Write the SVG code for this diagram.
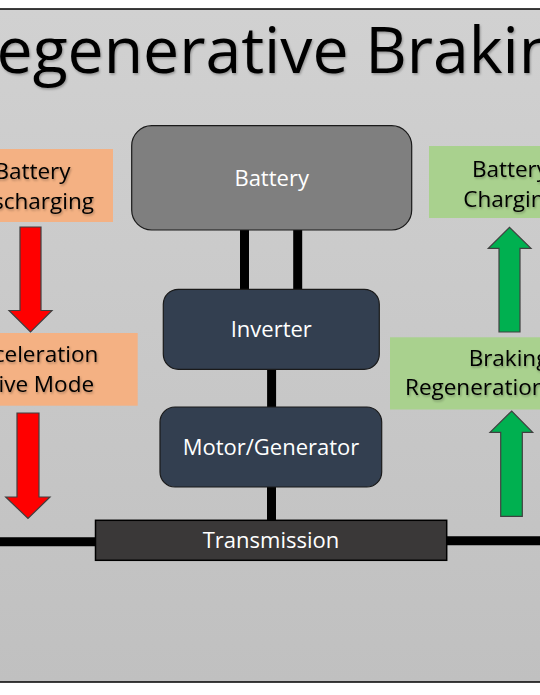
<svg xmlns="http://www.w3.org/2000/svg" width="540" height="695" viewBox="0 0 540 695">
  <defs>
    <linearGradient id="bg" x1="0" y1="0" x2="0" y2="1">
      <stop offset="0" stop-color="#d1d1d1"/>
      <stop offset="1" stop-color="#c0c0c0"/>
    </linearGradient>
    <filter id="sh" x="-10%" y="-20%" width="120%" height="150%">
      <feDropShadow dx="1" dy="1.5" stdDeviation="1" flood-color="#000" flood-opacity="0.3"/>
    </filter>
  </defs>
  <style>
    .lbl { font-family: "Open Sans", "Noto Sans", sans-serif; font-size: 22.5px; fill: #000; text-anchor: middle; filter: url(#sh); }
    .wlbl { font-family: "Open Sans", "Noto Sans", sans-serif; font-size: 22px; fill: #fff; text-anchor: middle; }
    .blk { fill: #333f50; stroke: #1a1a1a; stroke-width: 1.2; }
    .con { stroke: #000; stroke-width: 9; fill: none; }
    .red { fill: #ff0000; stroke: #404040; stroke-width: 1.2; }
    .grn { fill: #00b050; stroke: #404040; stroke-width: 1.2; }
    .org { fill: #f4b183; }
    .lgr { fill: #a9d18e; }
  </style>
  <rect x="0" y="0" width="540" height="695" fill="#fff"/>
  <rect x="-2" y="9" width="544" height="673" fill="url(#bg)" stroke="#000" stroke-width="1.5"/>
  <text x="275" y="72.5" font-family="Open Sans, Noto Sans, sans-serif" font-size="64.3" fill="#000" text-anchor="middle" filter="url(#sh)">Regenerative Braking</text>

  <g id="connectors">
    <line class="con" x1="244.5" y1="229" x2="244.5" y2="290"/>
    <line class="con" x1="297.7" y1="229" x2="297.7" y2="290"/>
    <line class="con" x1="271.6" y1="368" x2="271.6" y2="408"/>
    <line class="con" x1="271.5" y1="486" x2="271.5" y2="521"/>
    <line class="con" x1="-2" y1="541.7" x2="96" y2="541.7"/>
    <line class="con" x1="446" y1="540.7" x2="542" y2="540.7"/>
    <polygon class="red" points="20,227 41,227 41,310.5 52,310.5 30.5,332 9,310.5 20,310.5"/>
    <polygon class="red" points="17,413 39,413 39,497 50,497 28,518.5 5.7,497 17,497"/>
    <polygon class="grn" points="499,332 520,332 520,248.3 531,248.3 509.5,227.3 488.3,248.3 499,248.3"/>
    <polygon class="grn" points="500.7,516.3 522.3,516.3 522.3,432.3 532.7,432.3 511.7,411 490,432.3 500.7,432.3"/>
  </g>

  <g id="battery">
    <rect x="131.7" y="125.7" width="280" height="104.3" rx="20" fill="#7f7f7f" stroke="#1a1a1a" stroke-width="1.2"/>
    <text class="wlbl" x="271.7" y="186">Battery</text>
  </g>
  <g id="inverter">
    <rect class="blk" x="163.3" y="289.3" width="216" height="80" rx="15"/>
    <text class="wlbl" x="271.3" y="336.7">Inverter</text>
  </g>
  <g id="motor">
    <rect class="blk" x="160" y="407" width="221.7" height="80" rx="15"/>
    <text class="wlbl" x="271" y="455">Motor/Generator</text>
  </g>
  <g id="transmission">
    <rect x="95.5" y="520.3" width="351.2" height="40" fill="#3a3838" stroke="#000" stroke-width="1.5"/>
    <text class="wlbl" x="271" y="548">Transmission</text>
  </g>

  <g id="battery-discharging">
    <rect class="org" x="-10" y="149" width="123" height="73"/>
    <text class="lbl" x="32.5" y="179.3">Battery</text>
    <text class="lbl" x="32.5" y="209">Discharging</text>
  </g>
  <g id="acceleration">
    <rect class="org" x="-10" y="333" width="147.7" height="72.7"/>
    <text class="lbl" x="33.5" y="361.7">Acceleration</text>
    <text class="lbl" x="33.5" y="391.7">Drive Mode</text>
  </g>
  <g id="battery-charging">
    <rect class="lgr" x="429" y="146" width="121" height="72"/>
    <text class="lbl" x="510" y="176.7">Battery</text>
    <text class="lbl" x="510" y="207">Charging</text>
  </g>
  <g id="braking">
    <rect class="lgr" x="390" y="337.3" width="160" height="72.2"/>
    <text class="lbl" x="508.5" y="365.7">Braking</text>
    <text class="lbl" x="405" y="395" style="text-anchor:start">Regeneration</text>
  </g>
</svg>
